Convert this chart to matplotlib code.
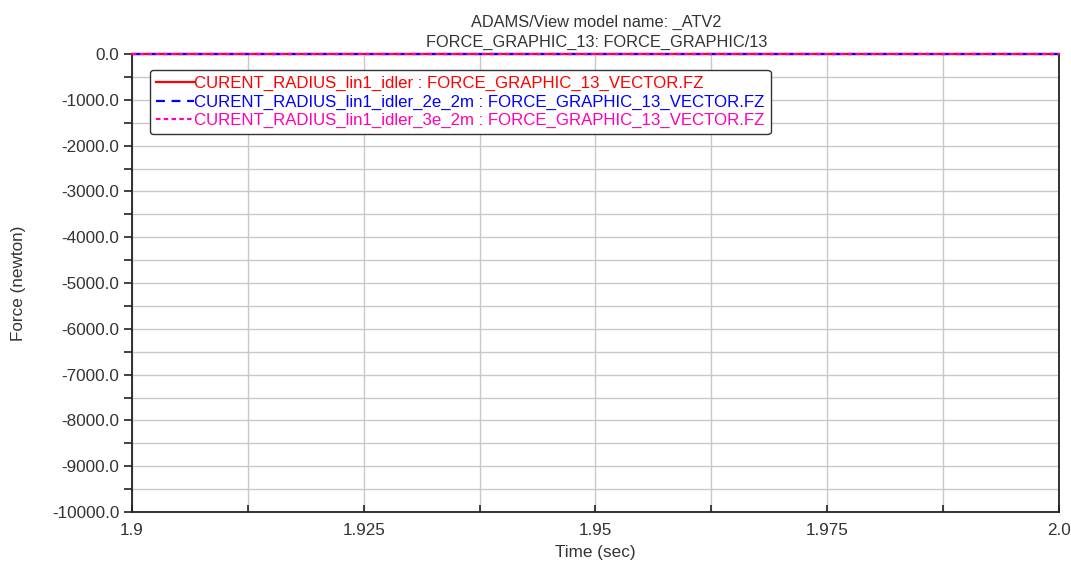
import matplotlib.pyplot as plt
from matplotlib.ticker import MultipleLocator, FixedLocator

plt.rcParams['font.family'] = ['Liberation Sans', 'DejaVu Sans']

# data (all three runs sit on 0 N)
time = [1.9, 1.925, 1.95, 1.975, 2.0]
fz_idler = [0.0, 0.0, 0.0, 0.0, 0.0]
fz_idler_2e = [0.0, 0.0, 0.0, 0.0, 0.0]
fz_idler_3e = [0.0, 0.0, 0.0, 0.0, 0.0]

labels = ["CURENT_RADIUS_lin1_idler : FORCE_GRAPHIC_13_VECTOR.FZ",
          "CURENT_RADIUS_lin1_idler_2e_2m : FORCE_GRAPHIC_13_VECTOR.FZ",
          "CURENT_RADIUS_lin1_idler_3e_2m : FORCE_GRAPHIC_13_VECTOR.FZ"]
colors = ['#ff0000', '#0000ff', '#ff00b4']

x_ticks = [1.9, 1.925, 1.95, 1.975, 2.0]
x_ticklabels = ["1.9", "1.925", "1.95", "1.975", "2.0"]

fig = plt.figure(figsize=(10.71, 5.61), dpi=100)
ax = fig.add_axes([0.1232, 0.0873, 0.8656, 0.8164])

ax.plot(time, fz_idler, color=colors[0], lw=1.6, ls='-', clip_on=False, label=labels[0], zorder=3)
ax.plot(time, fz_idler_2e, color=colors[1], lw=1.6, ls=(0, (4, 3)), clip_on=False, label=labels[1], zorder=4)
ax.plot(time, fz_idler_3e, color=colors[2], lw=1.6, ls=(0, (2, 1.5)), clip_on=False, label=labels[2], zorder=5)

ax.set_xlim(1.9, 2.0)
ax.xaxis.set_major_locator(FixedLocator(x_ticks))
ax.set_xticklabels(x_ticklabels)
ax.xaxis.set_minor_locator(MultipleLocator(0.0125))
ax.yaxis.set_major_locator(MultipleLocator(1000))
ax.yaxis.set_minor_locator(MultipleLocator(500))
ax.set_ylim(-10000, 0)
ax.yaxis.set_major_formatter(lambda v, p: f"{v:.1f}")

ax.grid(True, which='both', color='#c8c8c8', lw=1.0)
ax.set_axisbelow(True)
ax.tick_params(axis='both', which='both', labelsize=12.3, colors='#222222', labelcolor='#333333')
ax.tick_params(axis='y', which='both', direction='out', length=6, width=1.2, pad=3)
ax.tick_params(axis='x', which='both', direction='in', length=5, width=1.2, pad=8)

ax.spines['top'].set_visible(False)
for s in ['left', 'bottom', 'right']:
    ax.spines[s].set_color('#222222')
    ax.spines[s].set_linewidth(1.3)

ax.set_xlabel("Time (sec)", fontsize=12.3, labelpad=5, color='#333333')
ax.set_ylabel("Force (newton)", fontsize=12.3, labelpad=19, color='#333333')
fig.text(0.557, 0.960, "ADAMS/View model name: _ATV2", ha='center', va='center', fontsize=11.8, color='#333333')
fig.text(0.557, 0.925, "FORCE_GRAPHIC_13: FORCE_GRAPHIC/13", ha='center', va='center', fontsize=11.8, color='#333333')

leg = ax.legend(loc='upper left', bbox_to_anchor=(0.0194, 0.965), borderaxespad=0, fontsize=12.1,
                handlelength=2.3, handletextpad=0.0, borderpad=0.35, labelspacing=0.2,
                fancybox=True, framealpha=1, edgecolor='#333333')
leg.get_frame().set_linewidth(1.0)
for t, c in zip(leg.get_texts(), colors):
    t.set_color(c)

plt.savefig("out.png", dpi=100)
